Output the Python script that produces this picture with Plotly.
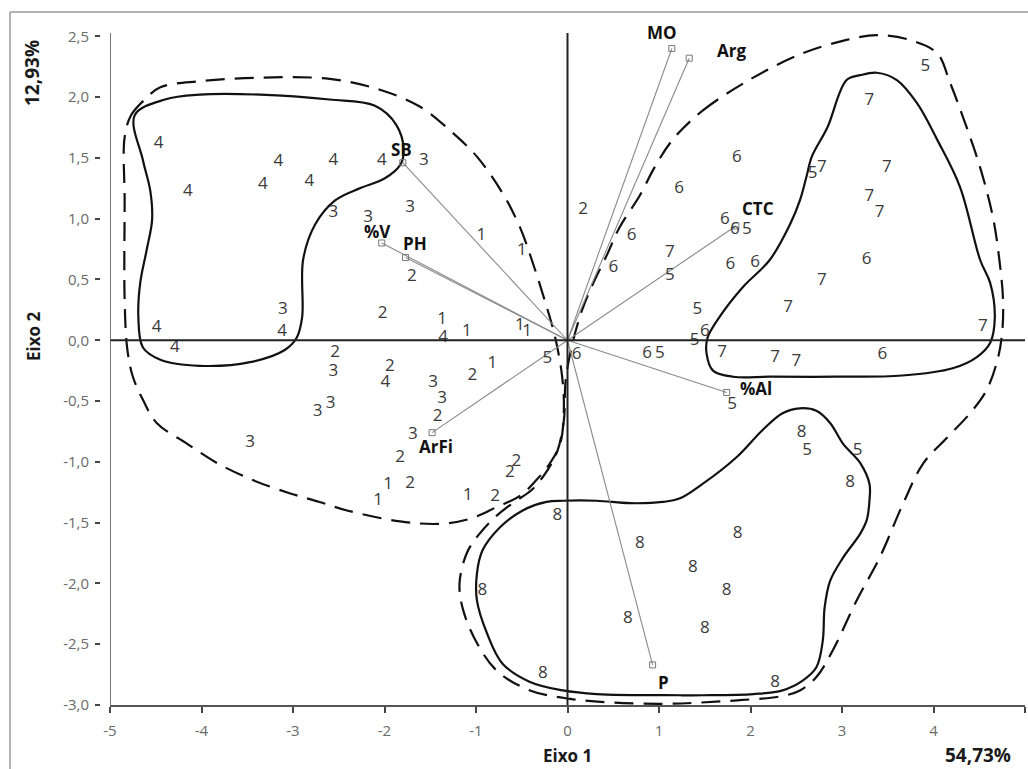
import plotly.graph_objects as go

# Escores das amostras no plano Eixo 1 x Eixo 2, separados por classe
grupo1_x = [-0.94, -0.50, -1.37, -1.10, -0.52, -0.44, -0.82, -1.96, -2.07, -1.09]
grupo1_y = [0.86, 0.74, 0.17, 0.07, 0.12, 0.07, -0.19, -1.19, -1.32, -1.28]

grupo2_x = [0.17, -1.70, -2.02, -2.54, -1.94, -1.04, -1.42, -1.83, -1.72, -0.56, -0.63, -0.79]
grupo2_y = [1.07, 0.52, 0.22, -0.10, -0.22, -0.29, -0.63, -0.97, -1.18, -1.00, -1.09, -1.29]

grupo3_x = [-1.57, -2.56, -1.72, -2.18, -3.11, -2.56, -2.73, -2.59, -3.47, -1.47, -1.37, -1.69]
grupo3_y = [1.48, 1.05, 1.09, 1.01, 0.25, -0.26, -0.59, -0.52, -0.84, -0.35, -0.48, -0.78]

grupo4_x = [-4.47, -4.15, -3.16, -3.33, -2.56, -2.82, -2.03, -4.49, -4.29, -3.12, -1.36, -1.99]
grupo4_y = [1.62, 1.22, 1.47, 1.28, 1.48, 1.30, 1.48, 0.10, -0.06, 0.07, 0.02, -0.35]

grupo5_x = [-0.22, 1.01, 1.12, 1.42, 1.39, 1.80, 2.62, 3.17, 1.96, 3.91, 2.68]
grupo5_y = [-0.15, -0.11, 0.53, 0.25, 0.00, -0.53, -0.91, -0.91, 0.91, 2.25, 1.37]

grupo6_x = [1.85, 1.22, 0.70, 0.50, 1.78, 2.05, 3.27, 0.10, 3.44, 0.87, 1.50, 1.72, 1.83]
grupo6_y = [1.50, 1.25, 0.86, 0.60, 0.62, 0.64, 0.66, -0.12, -0.12, -0.11, 0.07, 0.99, 0.91]

grupo7_x = [3.30, 3.49, 3.30, 3.41, 2.78, 1.12, 2.78, 2.41, 4.54, 1.69, 2.27, 2.50]
grupo7_y = [1.97, 1.42, 1.18, 1.05, 1.42, 0.72, 0.49, 0.27, 0.11, -0.10, -0.14, -0.18]

grupo8_x = [-0.11, 0.79, -0.93, 0.66, -0.27, 1.86, 1.37, 1.74, 1.50, 2.27, 2.56, 3.09]
grupo8_y = [-1.44, -1.67, -2.06, -2.29, -2.74, -1.59, -1.87, -2.06, -2.37, -2.82, -0.76, -1.17]

# Vetores das variáveis do solo
variaveis = ["MO", "Arg", "CTC", "%Al", "P", "ArFi", "PH", "%V", "SB"]
var_x = [1.14, 1.33, 1.84, 1.74, 0.93, -1.48, -1.77, -2.03, -1.80]
var_y = [2.40, 2.32, 0.94, -0.43, -2.67, -0.76, 0.68, 0.80, 1.46]

# Envoltórias dos agrupamentos (contorno contínuo = núcleo, tracejado = grupo)
nucleo_esq_x = [-4.73, -4.40, -4.02, -3.36, -2.60, -2.11, -1.87, -1.79, -1.83, -2.00, -2.27, -2.54, -2.76,
                -2.89, -2.90, -2.96, -3.09, -3.47, -4.02, -4.45, -4.64, -4.69, -4.67, -4.60, -4.54, -4.56,
                -4.64, -4.73]
nucleo_esq_y = [1.85, 1.98, 2.02, 2.02, 1.98, 1.93, 1.77, 1.56, 1.44, 1.33, 1.25, 1.15, 0.95,
                0.66, 0.19, 0.02, -0.08, -0.18, -0.21, -0.16, -0.06, 0.19, 0.47, 0.74, 0.99, 1.23,
                1.48, 1.85]

grupo_esq_x = [-4.84, -4.77, -4.62, -4.45, -4.02, -3.36, -2.60, -2.05, -1.61, -1.29, -0.99, -0.71, -0.52,
               -0.39, -0.25, -0.14, -0.06, -0.04, -0.08, -0.19, -0.34, -0.52, -0.77, -1.07, -1.40, -1.83,
               -2.41, -2.71, -3.03, -3.44, -3.83, -4.16, -4.49, -4.64, -4.75, -4.81, -4.84, -4.84, -4.84]
grupo_esq_y = [1.67, 1.85, 1.98, 2.08, 2.13, 2.16, 2.15, 2.06, 1.92, 1.73, 1.51, 1.21, 0.93,
               0.66, 0.33, 0.04, -0.29, -0.58, -0.85, -1.01, -1.15, -1.28, -1.37, -1.47, -1.51, -1.49,
               -1.40, -1.33, -1.26, -1.15, -1.01, -0.85, -0.68, -0.49, -0.30, -0.08, 0.33, 1.15, 1.67]

nucleo_dir_x = [2.21, 2.43, 2.54, 2.61, 2.67, 2.84, 3.05, 3.20, 3.38, 3.60, 3.82, 4.04, 4.29, 4.51,
                4.62, 4.67, 4.62, 4.47, 4.21, 3.66, 2.94, 2.21, 1.81, 1.59, 1.52, 1.53, 1.66, 1.92, 2.21]
nucleo_dir_y = [0.66, 0.95, 1.15, 1.34, 1.51, 1.75, 2.14, 2.18, 2.20, 2.14, 1.95, 1.65, 1.26, 0.66,
                0.47, 0.19, -0.02, -0.14, -0.23, -0.29, -0.30, -0.30, -0.30, -0.25, -0.11, 0.02, 0.19, 0.44, 0.66]

grupo_dir_x = [1.15, 1.48, 2.03, 2.57, 3.05, 3.38, 3.74, 4.04, 4.18, 4.32, 4.51, 4.65, 4.72, 4.76,
               4.75, 4.70, 4.58, 4.40, 4.15, 3.89, 3.67, 3.41, 3.16, 2.90, 2.72, 2.54, 2.32, 1.88,
               1.45, 1.04, 0.50, 0.03, -0.41, -0.77, -0.99, -1.14, -1.18, -1.10, -0.96, -0.77, -0.58,
               -0.39, -0.22, -0.11, -0.04, -0.02, 0.05, 0.16, 0.27, 0.43, 0.57, 0.79, 0.95, 1.15]
grupo_dir_y = [1.65, 1.89, 2.16, 2.36, 2.47, 2.51, 2.47, 2.36, 2.12, 1.84, 1.42, 1.01, 0.66, 0.33,
               0.06, -0.16, -0.41, -0.60, -0.80, -1.01, -1.34, -1.79, -2.14, -2.55, -2.77, -2.88, -2.93, -2.96,
               -2.98, -2.99, -2.98, -2.95, -2.88, -2.72, -2.49, -2.22, -2.00, -1.75, -1.59, -1.44, -1.33,
               -1.23, -1.07, -0.91, -0.66, -0.33, -0.04, 0.25, 0.45, 0.70, 0.93, 1.19, 1.42, 1.65]

nucleo_inf_x = [0.32, 0.68, 1.04, 1.23, 1.48, 1.85, 2.13, 2.35, 2.54, 2.72, 2.87, 3.01, 3.20, 3.30,
                3.30, 3.27, 3.20, 3.01, 2.87, 2.81, 2.79, 2.72, 2.57, 2.35, 2.03, 1.48, 1.23, 0.32,
                -0.05, -0.41, -0.71, -0.88, -0.99, -0.99, -0.93, -0.74, -0.49, -0.23, -0.05, 0.32]
nucleo_inf_y = [-1.32, -1.34, -1.33, -1.30, -1.18, -0.96, -0.74, -0.60, -0.56, -0.58, -0.68, -0.85, -1.01, -1.18,
                -1.32, -1.48, -1.59, -1.79, -1.98, -2.20, -2.47, -2.69, -2.80, -2.88, -2.91, -2.92, -2.92, -2.91,
                -2.88, -2.81, -2.66, -2.41, -2.14, -1.92, -1.73, -1.54, -1.40, -1.33, -1.32, -1.32]

# Títulos e rótulos dos eixos
titulo_x = "Eixo 1"
titulo_y = "Eixo 2"
inercia_x = "54,73%"
inercia_y = "12,93%"
ticks_x = [-5, -4, -3, -2, -1, 0, 1, 2, 3, 4, 5]
ticks_y = [2.5, 2.0, 1.5, 1.0, 0.5, 0.0, -0.5, -1.0, -1.5, -2.0, -2.5, -3.0]

FONTE = "Open Sans"
COR_NUM = "#3a3a3a"

fig = go.Figure()

# envoltórias
tracejado = dict(color="#111111", width=2.2, dash="19px,10px", shape="spline", smoothing=1.0)
continuo = dict(color="#111111", width=2.2, shape="spline", smoothing=1.0)
for xs, ys, estilo in [
    (grupo_esq_x, grupo_esq_y, tracejado),
    (grupo_dir_x, grupo_dir_y, tracejado),
    (nucleo_esq_x, nucleo_esq_y, continuo),
    (nucleo_dir_x, nucleo_dir_y, continuo),
    (nucleo_inf_x, nucleo_inf_y, continuo),
]:
    fig.add_trace(go.Scatter(x=xs, y=ys, mode="lines", line=estilo,
                             hoverinfo="skip", showlegend=False))

# vetores das variáveis
for nome, vx, vy in zip(variaveis, var_x, var_y):
    fig.add_trace(go.Scatter(x=[0, vx], y=[0, vy], mode="lines",
                             line=dict(color="#8a8a8a", width=1.1),
                             hoverinfo="skip", showlegend=False))
fig.add_trace(go.Scatter(x=var_x, y=var_y, mode="markers",
                         marker=dict(symbol="square-open", size=6, color="#777777",
                                     line=dict(width=1)),
                         text=variaveis, hoverinfo="text", showlegend=False))

# amostras, identificadas pelo número da classe
grupos = [
    ("1", grupo1_x, grupo1_y), ("2", grupo2_x, grupo2_y),
    ("3", grupo3_x, grupo3_y), ("4", grupo4_x, grupo4_y),
    ("5", grupo5_x, grupo5_y), ("6", grupo6_x, grupo6_y),
    ("7", grupo7_x, grupo7_y), ("8", grupo8_x, grupo8_y),
]
for rotulo, xs, ys in grupos:
    fig.add_trace(go.Scatter(x=xs, y=ys, mode="text", text=[rotulo] * len(xs),
                             textposition="middle center",
                             textfont=dict(family=FONTE, size=17, color=COR_NUM),
                             name="Classe " + rotulo, showlegend=False))

# deslocamento (px) de cada nome de variável em relação à ponta do vetor
desloc_rotulo = {
    "MO": (-10, 16), "Arg": (42, 8), "CTC": (22, 17), "%Al": (29, 4), "P": (11, -18),
    "ArFi": (4, -14), "PH": (9, 14), "%V": (-4, 11), "SB": (-1, 13),
}
for nome, vx, vy in zip(variaveis, var_x, var_y):
    dx, dy = desloc_rotulo[nome]
    fig.add_annotation(x=vx, y=vy, text="<b>%s</b>" % nome, showarrow=False,
                       xshift=dx, yshift=dy, xanchor="center", yanchor="middle",
                       font=dict(family=FONTE, size=17, color="#111111"))

# linhas de referência (eixos que passam pela origem)
fig.add_shape(type="line", xref="x", yref="paper", x0=0, x1=0, y0=0, y1=1,
              line=dict(color="#222222", width=2))
fig.add_shape(type="line", xref="x", yref="y", x0=-5, x1=5, y0=0, y1=0,
              line=dict(color="#222222", width=2))
# linha do eixo vertical
fig.add_shape(type="line", xref="x", yref="paper", x0=-5, x1=-5, y0=-0.01, y1=1,
              line=dict(color="#555555", width=1.6))
# moldura
fig.add_shape(type="line", xref="paper", yref="paper", x0=-0.0973, x1=1.01, y0=1.0313, y1=1.0313,
              line=dict(color="#9a9a9a", width=1.5))
fig.add_shape(type="line", xref="paper", yref="paper", x0=-0.0973, x1=-0.0973, y0=-0.1, y1=1.0313,
              line=dict(color="#9a9a9a", width=1.5))

titulo_fonte = dict(family=FONTE, size=17, color="#1a1a1a")
inercia_fonte = dict(family=FONTE, size=19, color="#1a1a1a")
for x, y, texto, angulo, fonte in [
    (-0.0735, 0.9405, inercia_y, -90, inercia_fonte),
    (-0.0724, 0.5476, titulo_y, -90, titulo_fonte),
    (0.5049, -0.0745, titulo_x, 0, titulo_fonte),
    (0.9492, -0.0744, inercia_x, 0, inercia_fonte),
]:
    fig.add_annotation(xref="paper", yref="paper", x=x, y=y, text="<b>%s</b>" % texto,
                       textangle=angulo, showarrow=False,
                       xanchor="center", yanchor="middle", font=fonte)

fig.update_layout(
    width=1028, height=769,
    margin=dict(l=100, r=3, t=33, b=64),
    paper_bgcolor="white", plot_bgcolor="white",
    showlegend=False,
    xaxis=dict(
        range=[-5, 5], domain=[10 / 925, 1],
        tickvals=ticks_x, ticktext=[str(v) for v in ticks_x],
        showgrid=False, zeroline=False,
        showline=True, linecolor="#555555", linewidth=1.6,
        ticks="outside", ticklen=6, tickwidth=2, tickcolor="#444444",
        ticklabelstandoff=5,
        tickfont=dict(family=FONTE, size=15, color="#6a6a6a"),
    ),
    yaxis=dict(
        range=[-3.0, 2.527], anchor="free", position=0,
        tickvals=ticks_y, ticktext=[("%.1f" % v).replace(".", ",") for v in ticks_y],
        showgrid=False, zeroline=False, showline=False,
        ticks="outside", ticklen=5, tickwidth=2, tickcolor="#444444",
        ticklabelstandoff=3,
        tickfont=dict(family=FONTE, size=15, color="#6a6a6a"),
    ),
)

fig.write_html("out.html")
